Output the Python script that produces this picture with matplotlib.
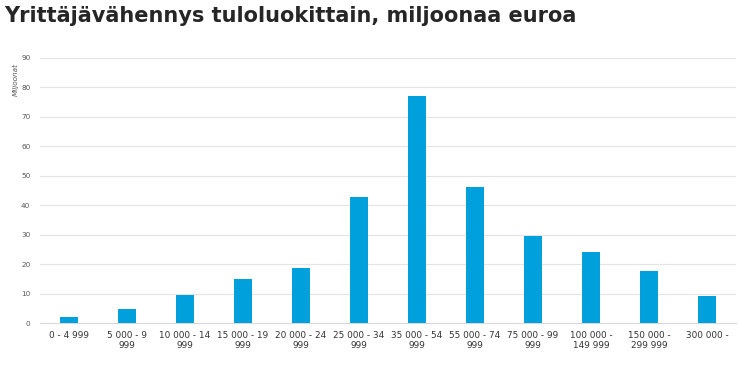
import numpy as np
import matplotlib.pyplot as plt

categories = ["0 - 4 999", "5 000 - 9\n999", "10 000 - 14\n999", "15 000 - 19\n999",
              "20 000 - 24\n999", "25 000 - 34\n999", "35 000 - 54\n999", "55 000 - 74\n999",
              "75 000 - 99\n999", "100 000 -\n149 999", "150 000 -\n299 999", "300 000 -"]
values = [2.0, 4.8, 9.5, 15.0, 18.7, 42.8, 77.1, 46.2, 29.6, 24.1, 17.7, 9.2]
yticks = list(range(0, 100, 10))

fig = plt.figure(figsize=(7.39, 3.67), dpi=100)
ax = fig.add_axes([40/739, 1-323/367, 696/739, 265/367])

x = np.arange(len(categories))
ax.bar(x, values, width=0.31, color="#00a0dc", zorder=3)

ax.set_xlim(-0.5, len(categories)-0.5)
ax.set_ylim(0, 90)
ax.set_yticks(yticks)
ax.set_xticks(x)
ax.set_xticklabels(categories, fontsize=6.4, color="#333333", linespacing=1.15)
ax.tick_params(axis="y", labelsize=5.2, colors="#555555", length=0, pad=7)
ax.tick_params(axis="x", length=0, pad=6)
ax.grid(axis="y", color="#e4e4e4", linewidth=0.8, zorder=0)
for s in ["top", "right", "left"]:
    ax.spines[s].set_visible(False)
ax.spines["bottom"].set_color("#d9d9d9")

fig.text(16/739, 1-80/367, "Miljoonat", rotation=90, fontsize=5.2, color="#555555",
         style="italic", ha="center", va="center")
fig.text(0.006, 1-6/367, "Yrittäjävähennys tuloluokittain, miljoonaa euroa",
         fontsize=15, fontweight="bold", color="#262626", ha="left", va="top")

plt.savefig("out.png", dpi=100)
